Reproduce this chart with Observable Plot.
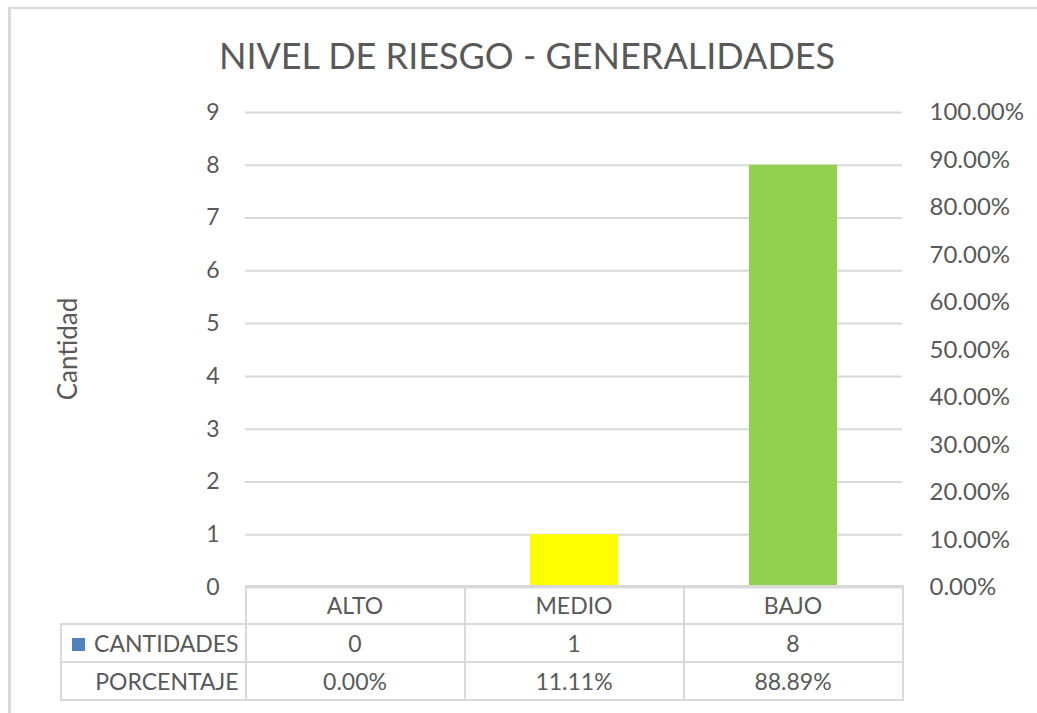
<!DOCTYPE html>
<html>
<head>
<meta charset="utf-8">
<script src="https://cdn.jsdelivr.net/npm/d3@7"></script>
<script src="https://cdn.jsdelivr.net/npm/@observablehq/plot@0.6"></script>
<style>
  html, body { margin: 0; padding: 0; background: #fff; }
  #wrap { position: relative; width: 1037px; height: 713px; overflow: hidden; background: #fff; font-family: Lato, "Open Sans", sans-serif; color: #595959; }
  #frame { position: absolute; left: 8px; top: 7px; width: 1200px; height: 900px; border-left: 3px solid #d9d9d9; border-top: 2px solid #d9d9d9; }
  #title { position: absolute; left: 0; top: 32px; width: 1054px; text-align: center; font-size: 36px; line-height: 46px; }
  #ylabel { position: absolute; left: 67px; top: 349px; transform: translate(-50%, -50%) rotate(-90deg); font-size: 26px; white-space: nowrap; }
  #plot { position: absolute; left: 0; top: 0; }
  #tbl { position: absolute; border-collapse: collapse; font-size: 23px; }
  #tbl td { border: 2px solid #d9d9d9; text-align: center; padding: 0; height: 38px; box-sizing: border-box; }
  #tbl td.rowhead { text-align: right; padding-right: 6px; white-space: nowrap; }
  #tbl td.blank { border: none; }
  .key { display: inline-block; width: 13px; height: 13px; background: #4f81bd; margin-right: 9px; vertical-align: 1px; }
</style>
</head>
<body>
<div id="wrap">
  <div id="frame"></div>
  <div id="title">NIVEL DE RIESGO - GENERALIDADES</div>
  <div id="ylabel">Cantidad</div>
  <div id="plot"></div>
  <table id="tbl"></table>
</div>
<script>
const categories = ["ALTO", "MEDIO", "BAJO"];
const cantidades = [0, 1, 8];
const porcentajes = [0.0000, 0.1111, 0.8889];
const barColors = ["#4f81bd", "#ffff00", "#92d050"];
const leftTicks = [0, 1, 2, 3, 4, 5, 6, 7, 8, 9];
const rightTicks = [0, 0.1, 0.2, 0.3, 0.4, 0.5, 0.6, 0.7, 0.8, 0.9, 1.0];
const rowLabels = ["CANTIDADES", "PORCENTAJE"];

const data = categories.map((c, i) => ({cat: c, value: cantidades[i], color: barColors[i]}));
const yMax = 9;

const plot = Plot.plot({
  width: 1037,
  height: 713,
  marginLeft: 245,
  marginRight: 135,
  marginTop: 112,
  marginBottom: 126,
  style: {fontFamily: "Lato, 'Open Sans', sans-serif", color: "#595959", background: "transparent", overflow: "visible"},
  x: {domain: categories, paddingInner: 0.6, paddingOuter: 0.3, axis: null},
  y: {domain: [0, yMax], axis: null},
  marks: [
    Plot.gridY(leftTicks, {stroke: "#d9d9d9", strokeOpacity: 1, strokeWidth: 2}),
    Plot.barY(data, {x: "cat", y: "value", fill: "color"}),
    Plot.axisY(leftTicks, {anchor: "left", tickSize: 0, tickPadding: 26, fontSize: 23, fill: "#595959", label: null, tickFormat: v => String(v)}),
    Plot.axisY(rightTicks.map(p => p * yMax), {anchor: "right", tickSize: 0, tickPadding: 27, fontSize: 24, fill: "#595959", label: null, tickFormat: v => (v / yMax * 100).toFixed(2) + "%"})
  ]
});
document.getElementById("plot").appendChild(plot);

// Data table aligned to the x band scale
const xs = plot.scale("x");
const ys = plot.scale("y");
const step = xs.step, bw = xs.bandwidth;
const edges = categories.map(c => xs.apply(c) - (step - bw) / 2);
const tableLeft = 61;
const tbl = document.getElementById("tbl");
tbl.style.left = (tableLeft - 1) + "px";
tbl.style.top = (ys.apply(0) - 2) + "px";
const colW = step;
let html = "<colgroup><col style='width:" + (edges[0] - tableLeft) + "px'>" +
  categories.map(() => "<col style='width:" + colW + "px'>").join("") + "</colgroup>";
html += "<tr><td class='blank'></td>" + categories.map(c => "<td>" + c + "</td>").join("") + "</tr>";
html += "<tr><td class='rowhead'><span class='key'></span>" + rowLabels[0] + "</td>" + cantidades.map(v => "<td>" + v + "</td>").join("") + "</tr>";
html += "<tr><td class='rowhead'>" + rowLabels[1] + "</td>" + porcentajes.map(v => "<td>" + (v * 100).toFixed(2) + "%</td>").join("") + "</tr>";
tbl.innerHTML = html;
tbl.style.width = (edges[0] - tableLeft + colW * categories.length) + "px";
tbl.style.tableLayout = "fixed";
</script>
</body>
</html>
